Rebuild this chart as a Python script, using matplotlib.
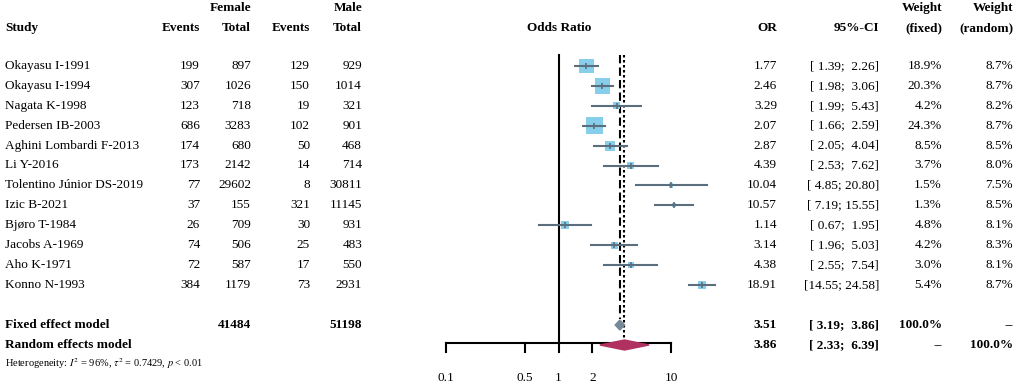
import numpy as np
import matplotlib
matplotlib.use("Agg")
import matplotlib.pyplot as plt

plt.rcParams['font.family'] = ['Liberation Serif', 'DejaVu Serif']
plt.rcParams['mathtext.fontset'] = 'stix'

studies = ["Okayasu I-1991", "Okayasu I-1994", "Nagata K-1998", "Pedersen IB-2003",
           "Aghini Lombardi F-2013", "Li Y-2016", "Tolentino Júnior DS-2019",
           "Izic B-2021", "Bjøro T-1984", "Jacobs A-1969", "Aho K-1971", "Konno N-1993"]
f_events = [199, 307, 123, 686, 174, 173, 77, 37, 26, 74, 72, 384]
f_total = [897, 1026, 718, 3283, 680, 2142, 29602, 155, 709, 506, 587, 1179]
m_events = [129, 150, 19, 102, 50, 14, 8, 321, 30, 25, 17, 73]
m_total = [929, 1014, 321, 901, 468, 714, 30811, 11145, 931, 483, 550, 2931]
odds = [1.77, 2.46, 3.29, 2.07, 2.87, 4.39, 10.04, 10.57, 1.14, 3.14, 4.38, 18.91]
ci_lo = [1.39, 1.98, 1.99, 1.66, 2.05, 2.53, 4.85, 7.19, 0.67, 1.96, 2.55, 14.55]
ci_hi = [2.26, 3.06, 5.43, 2.59, 4.04, 7.62, 20.80, 15.55, 1.95, 5.03, 7.54, 24.58]
w_fixed = [18.9, 20.3, 4.2, 24.3, 8.5, 3.7, 1.5, 1.3, 4.8, 4.2, 3.0, 5.4]
w_random = [8.7, 8.7, 8.2, 8.7, 8.5, 8.0, 7.5, 8.5, 8.1, 8.3, 8.1, 8.7]

fixed_total_f = 41484
fixed_total_m = 51198
fixed_or, fixed_lo, fixed_hi = 3.51, 3.19, 3.86
random_or, random_lo, random_hi = 3.86, 2.33, 6.39
het_text = r"Heterogeneity: $I^2$ = 96%, $\tau^2$ = 0.7429, $p$ < 0.01"
ticks = [0.1, 0.5, 1, 2, 10]

W, H = 1021, 384
fig = plt.figure(figsize=(W / 100, H / 100), dpi=100)
ax = fig.add_axes([0, 0, 1, 1])
ax.set_xlim(0, W)
ax.set_ylim(H, 0)
ax.axis('off')

# forest panel: log axis laid over the same pixel frame
x0, dec = 558.5, 112.5
fx = fig.add_axes([0, 0, 1, 1])
fx.set_xscale('log')
fx.set_xlim(10 ** (-x0 / dec), 10 ** ((W - x0) / dec))
fx.set_ylim(H, 0)
fx.axis('off')
fx.patch.set_alpha(0)

fs = 9.5
y_h1, y_h2 = 8, 28
row0, step = 66, 19.9
y_fix, y_ran, y_het = 325, 345, 364

# headers
ax.text(5, y_h2, "Study", fontsize=fs, weight='bold', va='center')
ax.text(251, y_h1, "Female", fontsize=fs, weight='bold', va='center', ha='right')
ax.text(362, y_h1, "Male", fontsize=fs, weight='bold', va='center', ha='right')
for xr, lab in [(200, "Events"), (251, "Total"), (310, "Events"), (362, "Total"),
                (777, "OR"), (879, "95%-CI"), (942, "(fixed)"), (1013, "(random)")]:
    ax.text(xr, y_h2, lab, fontsize=fs, weight='bold', va='center', ha='right')
ax.text(942, y_h1, "Weight", fontsize=fs, weight='bold', va='center', ha='right')
ax.text(1013, y_h1, "Weight", fontsize=fs, weight='bold', va='center', ha='right')
ax.text(559, y_h2, "Odds Ratio", fontsize=fs, weight='bold', va='center', ha='center')


def ci_str(lo, hi):
    return "[%5.2f; %5.2f]" % (lo, hi)


for i, s in enumerate(studies):
    y = row0 + i * step
    ax.text(5, y, s, fontsize=fs, va='center')
    ax.text(200, y, str(f_events[i]), fontsize=fs, va='center', ha='right')
    ax.text(251, y, str(f_total[i]), fontsize=fs, va='center', ha='right')
    ax.text(310, y, str(m_events[i]), fontsize=fs, va='center', ha='right')
    ax.text(362, y, str(m_total[i]), fontsize=fs, va='center', ha='right')
    ax.text(777, y, "%.2f" % odds[i], fontsize=fs, va='center', ha='right')
    ax.text(879, y, ci_str(ci_lo[i], ci_hi[i]), fontsize=fs, va='center', ha='right')
    ax.text(942, y, "%.1f%%" % w_fixed[i], fontsize=fs, va='center', ha='right')
    ax.text(1013, y, "%.1f%%" % w_random[i], fontsize=fs, va='center', ha='right')

    side = 17 * np.sqrt(w_fixed[i] / max(w_fixed)) * 0.72
    fx.scatter([odds[i]], [y], marker='s', s=side ** 2, color='#87CEEB',
               edgecolor='none', zorder=3)
    fx.plot([ci_lo[i], ci_hi[i]], [y, y], color='#5B6E7E', lw=1.5, zorder=4)
    fx.plot([odds[i]], [y], marker='|', ms=5, mew=1.2, color='#5B6E7E', zorder=5)

# summary rows
ax.text(5, y_fix, "Fixed effect model", fontsize=fs, weight='bold', va='center')
ax.text(5, y_ran, "Random effects model", fontsize=fs, weight='bold', va='center')
ax.text(251, y_fix, str(fixed_total_f), fontsize=fs, weight='bold', va='center', ha='right')
ax.text(362, y_fix, str(fixed_total_m), fontsize=fs, weight='bold', va='center', ha='right')
for y, o, lo, hi, wf, wr in [(y_fix, fixed_or, fixed_lo, fixed_hi, "100.0%", "--"),
                             (y_ran, random_or, random_lo, random_hi, "--", "100.0%")]:
    ax.text(777, y, "%.2f" % o, fontsize=fs, weight='bold', va='center', ha='right')
    ax.text(879, y, ci_str(lo, hi), fontsize=fs, weight='bold', va='center', ha='right')
    ax.text(942, y, wf, fontsize=fs, weight='bold', va='center', ha='right')
    ax.text(1013, y, wr, fontsize=fs, weight='bold', va='center', ha='right')
ax.text(5, y_het, het_text, fontsize=7.5, va='center')

# diamonds
fx.fill([fixed_lo, fixed_or, fixed_hi, fixed_or], [y_fix, y_fix - 5, y_fix, y_fix + 5],
        color='#778899', zorder=5)
fx.fill([random_lo, random_or, random_hi, random_or], [y_ran, y_ran - 5, y_ran, y_ran + 5],
        color='#B03060', zorder=5)

# reference lines
y_top, y_axis = 55, 343
fx.plot([1, 1], [y_top, y_axis], color='black', lw=1.5)
fx.plot([fixed_or, fixed_or], [y_top, y_fix - 6], color='black', lw=1.5,
        linestyle=(0, (4, 2)), zorder=2)
fx.plot([random_or, random_or], [y_top, y_axis], color='black', lw=1.5,
        linestyle=(0, (1.2, 1.2)), zorder=2)

# x axis
fx.plot([ticks[0], ticks[-1]], [y_axis, y_axis], color='black', lw=1.5)
for t in ticks:
    fx.plot([t, t], [y_axis, y_axis + 9], color='black', lw=1.5)
    fx.text(t, 378, "%g" % t, fontsize=fs, ha='center', va='center')

fig.savefig("out.png", dpi=100)
